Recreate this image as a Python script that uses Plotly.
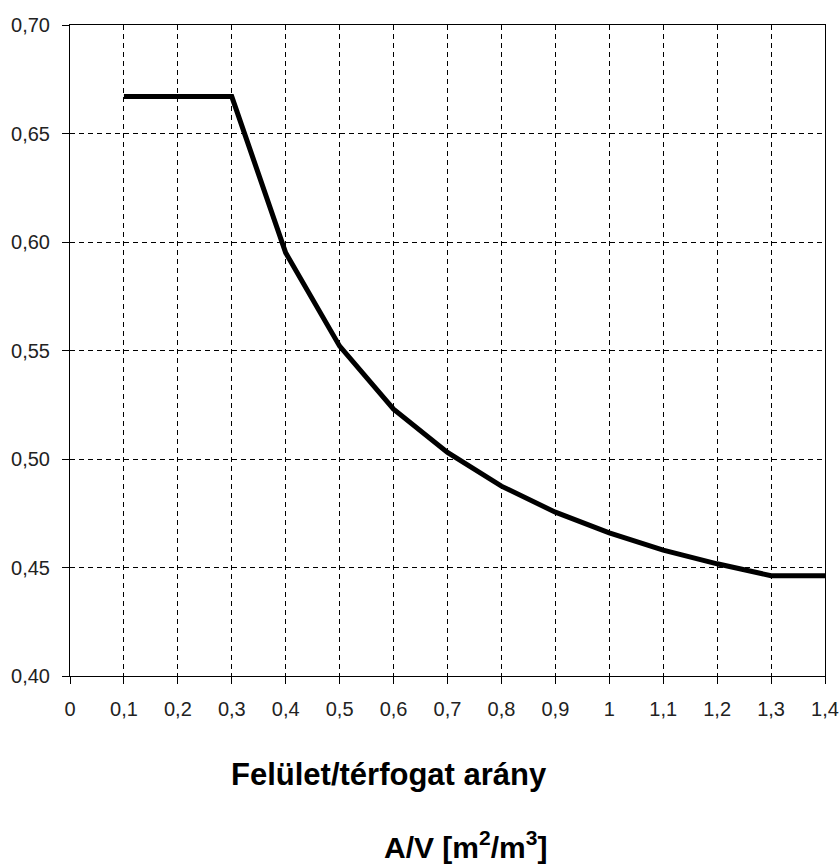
import plotly.graph_objects as go

# Data
av_ratio = [0.1, 0.2, 0.3, 0.4, 0.5, 0.6, 0.7, 0.8, 0.9, 1.0, 1.1, 1.2, 1.3, 1.4]
u_values = [0.667, 0.667, 0.667, 0.595, 0.552, 0.523, 0.503, 0.4875, 0.4755, 0.466, 0.458, 0.4517, 0.4462, 0.4462]

x_tickvals = [0, 0.1, 0.2, 0.3, 0.4, 0.5, 0.6, 0.7, 0.8, 0.9, 1.0, 1.1, 1.2, 1.3, 1.4]
x_ticktext = ["0", "0,1", "0,2", "0,3", "0,4", "0,5", "0,6", "0,7", "0,8", "0,9", "1", "1,1", "1,2", "1,3", "1,4"]
y_tickvals = [0.40, 0.45, 0.50, 0.55, 0.60, 0.65, 0.70]
y_ticktext = ["0,40", "0,45", "0,50", "0,55", "0,60", "0,65", "0,70"]

title_line1 = "Felület/térfogat arány"
title_line2 = "A/V [m<sup>2</sup>/m<sup>3</sup>]"

W, H = 840, 866
L, R, T, B = 70, 15, 25, 190
plot_w = W - L - R
plot_h = H - T - B

tick_font = dict(family="Liberation Sans, Arial", size=20, color="#222222")

fig = go.Figure()
fig.add_trace(go.Scatter(
    x=av_ratio, y=u_values, mode="lines",
    line=dict(color="black", width=5),
    showlegend=False, hoverinfo="skip",
))

axis_common = dict(
    showgrid=True, gridcolor="black", gridwidth=1, griddash="5px,4px",
    showline=True, linecolor="black", linewidth=1, mirror=True,
    ticks="outside", ticklen=7, tickcolor="black", tickwidth=1,
    zeroline=False, tickfont=tick_font, automargin=False,
)

fig.update_layout(
    width=W, height=H,
    margin=dict(l=L, r=R, t=T, b=B, pad=0),
    paper_bgcolor="white", plot_bgcolor="white",
    xaxis=dict(range=[0, 1.4], tickmode="array", tickvals=x_tickvals, ticktext=x_ticktext,
               ticklabelstandoff=8, **axis_common),
    yaxis=dict(range=[0.40, 0.70], tickmode="array", tickvals=y_tickvals, ticktext=y_ticktext,
               ticklabelstandoff=8, **axis_common),
    annotations=[
        dict(text="<b>" + title_line1 + "</b>", xref="paper", yref="paper",
             x=(389 - L) / plot_w, y=(676 - 774) / plot_h, xanchor="center", yanchor="middle",
             showarrow=False, font=dict(family="Liberation Sans, Arial", size=31, color="black")),
        dict(text="<b>" + title_line2 + "</b>", xref="paper", yref="paper",
             x=(466 - L) / plot_w, y=(676 - 845) / plot_h, xanchor="center", yanchor="middle",
             showarrow=False, font=dict(family="Liberation Sans, Arial", size=30, color="black")),
    ],
)

fig.write_html("out.html", config={"displayModeBar": False},
               post_script="document.body.style.margin='0';document.body.style.overflow='hidden';")
